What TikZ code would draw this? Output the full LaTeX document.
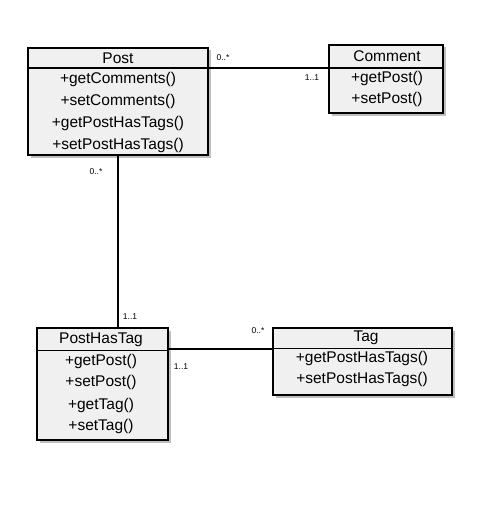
\documentclass[tikz,border=0pt]{standalone}
\usepackage{fontspec}
\setmainfont{Liberation Sans}
\usetikzlibrary{shadows}
\begin{document}
\begin{tikzpicture}[x=1pt,y=-1pt,
  cls/.style={draw=black, line width=1.3pt, fill=black!6, inner sep=0pt,
    drop shadow={shadow xshift=2.5pt, shadow yshift=-2.5pt, fill=black!50, opacity=0.5}},
  txt/.style={font=\fontsize{15.5}{17}\selectfont, inner sep=0pt, anchor=center},
  mult/.style={font=\fontsize{8.5}{10}\selectfont, inner sep=0pt},
  sep/.style={line width=1pt},
  conn/.style={line width=1.3pt}]
\useasboundingbox[fill=white] (0,0) rectangle (479,511);

% class boxes
\node[cls, minimum width=180pt, minimum height=107pt] (post) at (118,101.5) {};
\node[cls, minimum width=114pt, minimum height=68pt] (comment) at (386,79) {};
\node[cls, minimum width=131pt, minimum height=112pt] (pht) at (102.5,384) {};
\node[cls, minimum width=179pt, minimum height=67pt] (tag) at (362.5,361.5) {};

% header separators
\coordinate (hp) at (0,68);
\coordinate (hc) at (0,68);
\coordinate (hh) at (0,350);
\coordinate (ht) at (0,348);
\draw[sep] (post.west |- hp) -- (post.east |- hp);
\draw[sep] (comment.west |- hc) -- (comment.east |- hc);
\draw[sep] (pht.west |- hh) -- (pht.east |- hh);
\draw[sep] (tag.west |- ht) -- (tag.east |- ht);

% texts: Post
\node[txt] (postT) at (118,58) {Post};
\node[txt] (postM1) at (118,79) {+getComments()};
\node[txt] (postM2) at (118,101) {+setComments()};
\node[txt] (postM3) at (118,123) {+getPostHasTags()};
\node[txt] (postM4) at (118,145) {+setPostHasTags()};

% Comment
\node[txt] (comT) at (387,56) {Comment};
\node[txt] (comM1) at (387,78) {+getPost()};
\node[txt] (comM2) at (387,99) {+setPost()};

% PostHasTag
\node[txt] (phtT) at (101,340) {PostHasTag};
\node[txt] (phtM1) at (101,361) {+getPost()};
\node[txt] (phtM2) at (101,382) {+setPost()};
\node[txt] (phtM3) at (101,405) {+getTag()};
\node[txt] (phtM4) at (101,426) {+setTag()};

% Tag
\node[txt] (tagT) at (366,338) {Tag};
\node[txt] (tagM1) at (362,358) {+getPostHasTags()};
\node[txt] (tagM2) at (362,379) {+setPostHasTags()};

% connectors
\coordinate (ypc) at (0,68);
\coordinate (yht) at (0,349);
\draw[conn] (post.east |- ypc) -- (comment.west |- ypc);
\draw[conn] (post.south) -- (post.south |- pht.north);
\draw[conn] (pht.east |- yht) -- (tag.west |- yht);

% multiplicities
\node[mult] (m1) at (223,58) {0..*};
\node[mult] (m2) at (312,78) {1..1};
\node[mult] (m3) at (96,172) {0..*};
\node[mult] (m4) at (130,317) {1..1};
\node[mult] (m5) at (181,367) {1..1};
\node[mult] (m6) at (258,331) {0..*};
\end{tikzpicture}
\end{document}
